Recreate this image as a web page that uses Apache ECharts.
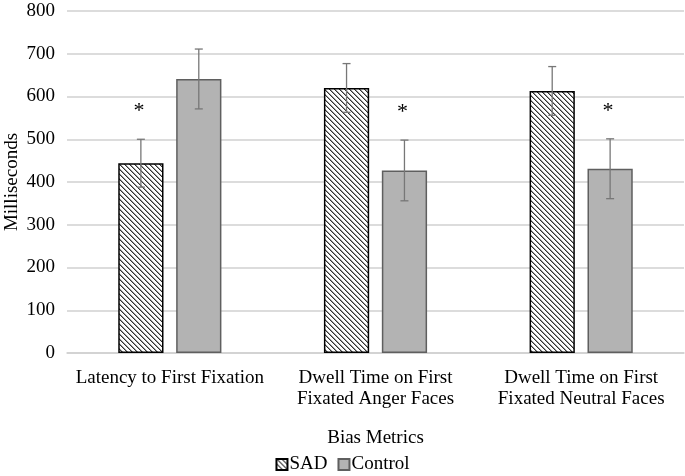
<!DOCTYPE html>
<html><head><meta charset="utf-8">
<script src="https://cdn.jsdelivr.net/npm/echarts@6/dist/echarts.min.js"></script>
<style>html,body{margin:0;padding:0;background:#fff}#c{width:685px;height:476px}</style>
</head><body><div id="c"></div>
<script>
const categories = ['Latency to First Fixation', 'Dwell Time on First\nFixated Anger Faces', 'Dwell Time on First\nFixated Neutral Faces'];
const sadMeans = [444, 620, 613];
const ctrlMeans = [641, 427, 431];
const sadErr = [56, 57, 57];
const ctrlErr = [70, 71, 70];
const sadSig = [true, false, false];
const ctrlSig = [false, true, true];
const yTicks = [0, 100, 200, 300, 400, 500, 600, 700, 800];

const FONT = 'Liberation Serif';
const FS = 19;
const BAR_W = 0.22, BAR_GAP = 0.28;

function hatch() {
  const c = document.createElement('canvas');
  c.width = 5; c.height = 5;
  const g = c.getContext('2d');
  g.fillStyle = '#fff'; g.fillRect(0, 0, 5, 5);
  g.fillStyle = '#333';
  for (let i = 0; i < 5; i++) { g.fillRect(i, i, 1, 1); }
  g.fillStyle = '#999';
  for (let i = 0; i < 5; i++) { g.fillRect((i + 1) % 5, i, 1, 1); }
  return c;
}
const hatchColor = { image: hatch(), repeat: 'repeat' };

const errData = [];
categories.forEach((c, i) => {
  errData.push([i, sadMeans[i], sadErr[i], 0, sadSig[i] ? 1 : 0]);
  errData.push([i, ctrlMeans[i], ctrlErr[i], 1, ctrlSig[i] ? 1 : 0]);
});

const chart = echarts.init(document.getElementById('c'));
chart.setOption({
  animation: false,
  grid: { left: 67, right: 1, top: 11, bottom: 123, containLabel: false, outerBoundsMode: 'none' },
  legend: {
    top: 450, left: 'center', itemWidth: 11, itemHeight: 11, itemGap: 10, icon: 'rect',
    textStyle: { fontFamily: FONT, fontSize: FS, color: '#000', padding: [0, 0, 0, -3] },
    data: ['SAD', 'Control']
  },
  xAxis: {
    type: 'category', data: categories,
    name: 'Bias Metrics', nameLocation: 'middle', nameGap: 76, nameMoveOverlap: false,
    nameTextStyle: { fontFamily: FONT, fontSize: FS, color: '#000' },
    axisLine: { lineStyle: { color: '#d0d0d0', width: 1.5 } },
    axisTick: { show: false },
    axisLabel: { fontFamily: FONT, fontSize: FS, color: '#000', margin: 15, lineHeight: 21, interval: 0 }
  },
  yAxis: {
    type: 'value', min: yTicks[0], max: yTicks[yTicks.length - 1], interval: 100,
    name: 'Milliseconds', nameLocation: 'middle', nameGap: 45, nameMoveOverlap: false,
    nameTextStyle: { fontFamily: FONT, fontSize: FS, color: '#000' },
    axisLine: { show: false }, axisTick: { show: false },
    axisLabel: { fontFamily: FONT, fontSize: FS, color: '#000', margin: 12 },
    splitLine: { lineStyle: { color: '#d0d0d0', width: 1.5 } }
  },
  series: [
    { name: 'SAD', type: 'bar', data: sadMeans, barWidth: (BAR_W * 100) + '%', barGap: (BAR_GAP * 100) + '%',
      itemStyle: { color: hatchColor, borderColor: '#000', borderWidth: 1.5 } },
    { name: 'Control', type: 'bar', data: ctrlMeans, barWidth: (BAR_W * 100) + '%', barGap: (BAR_GAP * 100) + '%',
      itemStyle: { color: '#b3b3b3', borderColor: '#5f5f5f', borderWidth: 1.5 } },
    { type: 'custom', data: errData, z: 10, silent: true,
      renderItem: function (params, api) {
        const ci = api.value(0), m = api.value(1), e = api.value(2), s = api.value(3), sig = api.value(4);
        const band = api.size([1, 0])[0];
        const bw = band * BAR_W, gap = bw * BAR_GAP;
        const off = (s === 0 ? -1 : 1) * (bw + gap) / 2;
        const top = api.coord([ci, m + e]);
        const bot = api.coord([ci, m - e]);
        const x = top[0] + off;
        const st = { stroke: '#777', lineWidth: 1.3 };
        const children = [
          { type: 'line', shape: { x1: x, y1: top[1], x2: x, y2: bot[1] }, style: st },
          { type: 'line', shape: { x1: x - 4, y1: top[1], x2: x + 4, y2: top[1] }, style: st },
          { type: 'line', shape: { x1: x - 4, y1: bot[1], x2: x + 4, y2: bot[1] }, style: st }
        ];
        if (sig) {
          children.push({ type: 'text', style: { text: '*', x: x - 2, y: top[1] - 28, align: 'center', verticalAlign: 'middle',
            font: '22px "' + FONT + '"', fill: '#000' } });
        }
        return { type: 'group', children: children };
      }
    }
  ]
});
</script></body></html>
